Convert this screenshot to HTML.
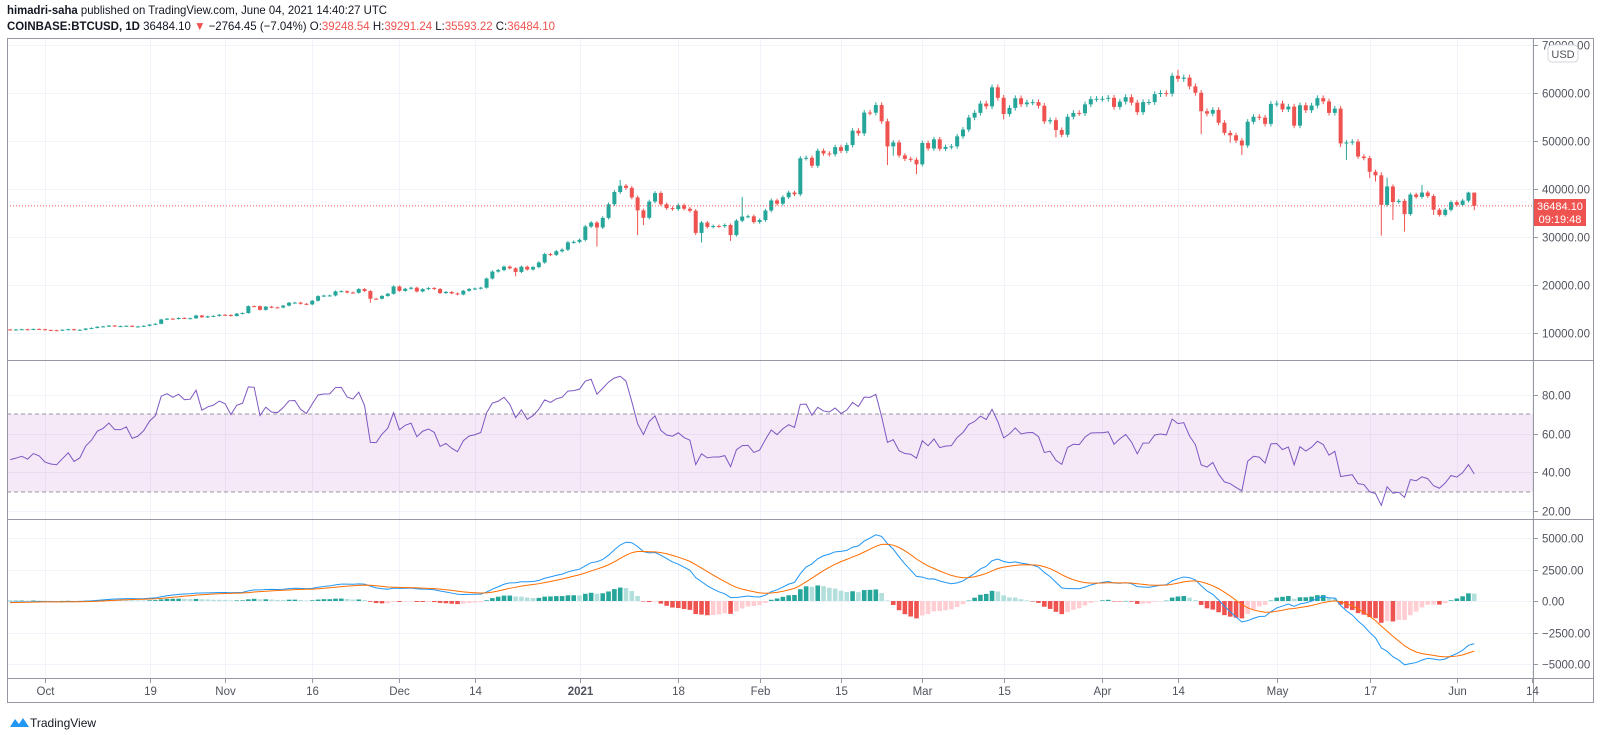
<!DOCTYPE html>
<html><head><meta charset="utf-8"><style>
html,body{margin:0;padding:0;background:#fff;width:1600px;height:735px;overflow:hidden;font-family:"Liberation Sans",sans-serif}
svg text{font-family:"Liberation Sans",sans-serif}
</style></head><body>
<svg id="c" width="1600" height="735" xmlns="http://www.w3.org/2000/svg">
<text x="7" y="14" font-size="12" fill="#131722" textLength="380" lengthAdjust="spacingAndGlyphs"><tspan font-weight="bold">himadri-saha</tspan> published on TradingView.com, June 04, 2021 14:40:27 UTC</text>
<text x="7" y="30" font-size="12" fill="#131722" textLength="548" lengthAdjust="spacingAndGlyphs"><tspan font-weight="bold">COINBASE:BTCUSD, 1D</tspan> 36484.10 <tspan fill="#ef5350">▼</tspan> −2764.45 (−7.04%) O:<tspan fill="#ef5350">39248.54</tspan> H:<tspan fill="#ef5350">39291.24</tspan> L:<tspan fill="#ef5350">35593.22</tspan> C:<tspan fill="#ef5350">36484.10</tspan></text>
<g id="grid"></g>
<rect x="7" y="414" width="1526" height="78" fill="#9c27b0" fill-opacity="0.1"/>
<line x1="7" x2="1533" y1="414" y2="414" stroke="#9598a1" stroke-dasharray="4,3"/>
<line x1="7" x2="1533" y1="492" y2="492" stroke="#9598a1" stroke-dasharray="4,3"/>
<g id="marks"></g>
<g fill="none" stroke="#9598a1">
<rect x="7.5" y="38.5" width="1586" height="664"/>
<line x1="1533.5" x2="1533.5" y1="38" y2="702"/>
<line x1="7" x2="1594" y1="360.5" y2="360.5"/>
<line x1="7" x2="1594" y1="519.5" y2="519.5"/>
<line x1="7" x2="1594" y1="678.5" y2="678.5"/>
</g>
<g id="axes" font-size="11.5" fill="#50535e"></g>
<g><rect x="1548" y="45" width="30" height="17" rx="4" fill="#fff" stroke="#d1d4dc"/><text x="1563" y="58" font-size="11" text-anchor="middle" fill="#50535e">USD</text></g>
<g><rect x="1534" y="199" width="52" height="27" fill="#ef5350"/><text x="1560" y="210" font-size="11" text-anchor="middle" fill="#fff">36484.10</text><text x="1560" y="223" font-size="11" text-anchor="middle" fill="#fff">09:19:48</text></g>
<g><path d="M10 727 l5 -8 l4 5 l4 -6 l6 9 z" fill="#2196f3"/><text x="30" y="727" font-size="12" fill="#131722">TradingView</text></g>
</svg>
<script>
const warmCloses=[11470,11330,11530,11480,11710,11680,11970,11420,10190,10500,10170,10280,10370,10130,10240,10370,10400,10440,10330,10680,10790,10960,10940,10930,11080,10920,10420,10540,10240,10740];
const closes=[10690,10730,10780,10700,10840,10780,
10620,10570,10550,10670,10790,10600,10670,10920,11060,11300,11380,11540,11430,11430,11500,11320,11370,11500,11750,11920,12820,12990,12930,13130,13040,13070,13650,13280,13460,13560,13800,
13750,13550,14030,14150,15590,15580,14830,15480,15330,15310,15700,16300,16330,16080,15960,16720,17680,17800,17820,18680,18710,18430,18370,19160,18740,17150,17140,17720,18180,19700,
18770,19220,19440,18650,19150,19360,19170,18320,18550,18250,18030,18800,19170,19270,19440,21350,22800,23110,23830,23470,22720,23810,23230,23730,24690,26440,26280,27030,27360,28880,28990,
29400,32190,33000,31990,33980,36820,39370,40670,40240,38240,35550,34000,37390,39150,36820,36020,35820,36630,35890,35470,30850,33000,32100,32280,32260,32500,30400,33400,34260,34310,33110,
33520,35510,37620,36930,38290,39260,38900,46400,46500,44850,47970,47400,47240,48720,47950,49150,52150,51590,55920,55900,57490,54100,48880,49700,47000,46280,46100,45140,
49590,48440,50350,48370,48760,48880,50970,52380,54880,55860,57800,57220,61180,59000,55630,56900,58910,57650,58030,58100,57350,54080,54340,52300,51300,55050,55850,55780,57630,58730,58780,
58800,59000,57100,58200,59130,57990,56000,58090,58100,59770,59990,59860,63580,62960,63200,61380,60050,56200,55700,56470,53800,51700,51190,50100,49070,54010,55050,54880,53570,57720,
57800,56580,57170,53200,57450,56400,57380,58930,58240,55860,56750,49500,49690,49880,46760,46440,43590,42850,36690,40530,37290,37530,34770,38850,38350,39260,38530,35680,34610,35670,37250,
36690,37580,39250,36484.1];
const firstOpen=10740;
const upWick=["222222","2222222222 2222222222 2222222222 2","2222222222 2222222222 2222222222","2222222222 2222222222 2222222222 2","2222222622 2222222222 22222222o2 2","2222222222 2222222222 22222222","2222222222 2222222222 2222222222 2","2222222222 2224222222 2222222222","2222222222 2222222239 2222282222 2","2210"].join('').replace(/ /g,'');
const dnWick=["222222","2222222222 2222222222 2222222222 2","2222222222 2222222222 22222a2222","2222222222 2222222222 8222222222 2","222p222222 t922222222 3d22228222 2","2222222222 2222222222 22g82229","2222222222 2222422222 2226222222 2","2222222222 2222222h22 2262822222","2222222222 23e22266z2 k2l2222622 2","2225"].join('').replace(/ /g,'');
const priceTicks=[10000,20000,30000,40000,50000,60000,70000];
const rsiTicks=[20,40,60,80];
const macdTicks=[5000,2500,0,-2500,-5000];
const timeLabels=["Oct","19","Nov","16","Dec","14","2021","18","Feb","15","Mar","15","Apr","14","May","17","Jun","14"];
const timeDays=[6,24,37,52,67,80,98,115,129,143,157,171,188,201,218,234,249,262];

const NS="http://www.w3.org/2000/svg";
const X0=7,X1=1533;
const xD=d=>45+(d-6)*5.81;
const yP=p=>381-p*0.0048;
const yR=v=>511-(v-20)*1.933;
const yM=m=>601-m*0.0126;
function mk(tag,attrs,parent){const e=document.createElementNS(NS,tag);for(const k in attrs)e.setAttribute(k,attrs[k]);parent.appendChild(e);return e;}
const grid=document.getElementById('grid'),marks=document.getElementById('marks'),axes=document.getElementById('axes');

timeDays.forEach((d,i)=>{const x=Math.round(xD(d))+0.5;
 const g=mk('line',{x1:x,x2:x,y1:38,y2:678,stroke:'#f0f3fa'},grid);
 
 
 mk('line',{x1:x,x2:x,y1:678,y2:683,stroke:'#9598a1'},axes);
 const t=mk('text',{x:x,y:695,'text-anchor':'middle','font-weight':timeLabels[i]==='2021'?'bold':'normal'},axes);t.textContent=timeLabels[i];
 
 
});
function yTicks(arr,fy,fmt){arr.forEach(v=>{const y=Math.round(fy(v))+0.5;
 const g=mk('line',{x1:X0,x2:X1,y1:y,y2:y,stroke:'#f0f3fa'},grid);
 
 
 mk('line',{x1:1533,x2:1538,y1:y,y2:y,stroke:'#9598a1'},axes);
 const t=mk('text',{x:1542,y:y+4},axes);t.textContent=fmt(v);
 
 
});}
yTicks(priceTicks,yP,v=>v.toFixed(2));
yTicks(rsiTicks,yR,v=>v.toFixed(2));
yTicks(macdTicks,yM,v=>(v<0?'−'+(-v).toFixed(2):v.toFixed(2)));

const all=warmCloses.concat(closes);
closes.forEach((c,i)=>{const o=i===0?firstOpen:closes[i-1];
 const hi=Math.max(o,c)*(1+parseInt(upWick[i]||'2',36)*0.005),lo=Math.min(o,c)*(1-parseInt(dnWick[i]||'2',36)*0.005);
 const x=xD(i),col=c>=o?'#26a69a':'#ef5350';
 const g=mk('g',{},marks);
 
 
 mk('line',{x1:x,x2:x,y1:yP(hi),y2:yP(lo),stroke:col,'stroke-width':1},g);
 const yt=yP(Math.max(o,c)),yb=yP(Math.min(o,c));
 mk('rect',{x:x-2,y:yt,width:4,height:Math.max(1,yb-yt),fill:col},g);
});
const lp=mk('line',{x1:X0,x2:X1,y1:yP(closes[closes.length-1]),y2:yP(closes[closes.length-1]),stroke:'#ef5350','stroke-dasharray':'1,2'},marks);



const W=warmCloses.length;
let ag=0,al=0;for(let k=1;k<=14;k++){const d=all[k]-all[k-1];if(d>0)ag+=d;else al-=d;}ag/=14;al/=14;
const rsi=[];
for(let k=15;k<all.length;k++){const d=all[k]-all[k-1];ag=(ag*13+Math.max(d,0))/14;al=(al*13+Math.max(-d,0))/14;if(k>=W)rsi.push(100-100/(1+ag/al));}
const rp=mk('polyline',{points:rsi.map((v,i)=>xD(i)+','+yR(v)).join(' '),fill:'none',stroke:'#7e57c2','stroke-width':1},marks);



let e12=all[0],e26=all[0],sig=0;const macd=[],sg=[];
all.forEach((c,k)=>{e12=e12+(c-e12)*2/13;e26=e26+(c-e26)*2/27;const m=e12-e26;sig=sig+(m-sig)*2/10;if(k>=W){macd.push(m);sg.push(sig);}});
macd.forEach((m,i)=>{const h=m-sg[i],ph=i?macd[i-1]-sg[i-1]:h;
 const col=h>=0?(h>=ph?'#26a69a':'#b2dfdb'):(h<ph?'#ef5350':'#ffcdd2');
 const y0=yM(0),y1=yM(h);
 const r=mk('rect',{x:xD(i)-2.3,y:Math.min(y0,y1),width:4.6,height:Math.max(0.5,Math.abs(y1-y0)),fill:col},marks);
 
 
});
const ml=mk('polyline',{points:macd.map((v,i)=>xD(i)+','+yM(v)).join(' '),fill:'none',stroke:'#2196f3','stroke-width':1},marks);


const sl=mk('polyline',{points:sg.map((v,i)=>xD(i)+','+yM(v)).join(' '),fill:'none',stroke:'#ff6d00','stroke-width':1},marks);


</script>
</body></html>
